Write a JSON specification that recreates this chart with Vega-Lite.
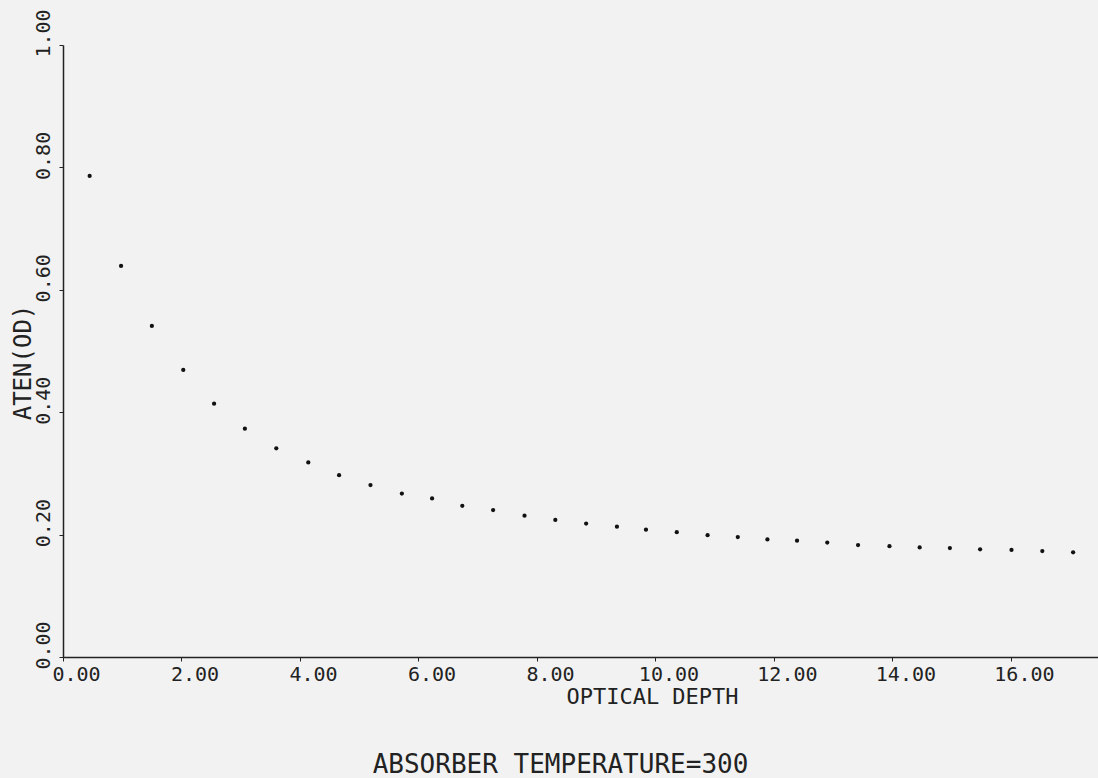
{
  "$schema": "https://vega.github.io/schema/vega-lite/v6.json",
  "width": 1035,
  "height": 612,
  "autosize": "none",
  "padding": {"left": 63, "top": 45, "right": 0, "bottom": 121},
  "background": "#f2f2f2",
  "title": {
    "text": "ABSORBER TEMPERATURE=300",
    "orient": "bottom",
    "anchor": "middle",
    "dx": -20,
    "offset": 45,
    "font": "DejaVu Sans Mono",
    "fontSize": 26,
    "fontWeight": "normal",
    "color": "#222222"
  },
  "config": {
    "view": {"stroke": null},
    "font": "DejaVu Sans Mono"
  },
  "data": {
    "values": [
      {"tau": 0.45, "aten": 0.786},
      {"tau": 0.98, "aten": 0.639},
      {"tau": 1.50, "aten": 0.541},
      {"tau": 2.03, "aten": 0.469},
      {"tau": 2.55, "aten": 0.414},
      {"tau": 3.07, "aten": 0.373},
      {"tau": 3.60, "aten": 0.341},
      {"tau": 4.14, "aten": 0.318},
      {"tau": 4.66, "aten": 0.297},
      {"tau": 5.19, "aten": 0.281},
      {"tau": 5.72, "aten": 0.267},
      {"tau": 6.23, "aten": 0.259},
      {"tau": 6.74, "aten": 0.247},
      {"tau": 7.26, "aten": 0.240},
      {"tau": 7.79, "aten": 0.231},
      {"tau": 8.31, "aten": 0.224},
      {"tau": 8.83, "aten": 0.218},
      {"tau": 9.35, "aten": 0.213},
      {"tau": 9.84, "aten": 0.208},
      {"tau": 10.36, "aten": 0.204},
      {"tau": 10.88, "aten": 0.199},
      {"tau": 11.39, "aten": 0.196},
      {"tau": 11.89, "aten": 0.192},
      {"tau": 12.39, "aten": 0.190},
      {"tau": 12.90, "aten": 0.187},
      {"tau": 13.42, "aten": 0.183},
      {"tau": 13.95, "aten": 0.181},
      {"tau": 14.46, "aten": 0.179},
      {"tau": 14.97, "aten": 0.178},
      {"tau": 15.48, "aten": 0.176},
      {"tau": 16.01, "aten": 0.175},
      {"tau": 16.53, "aten": 0.173},
      {"tau": 17.05, "aten": 0.171}
    ]
  },
  "mark": {"type": "circle", "size": 18, "color": "#111111", "opacity": 1},
  "encoding": {
    "x": {
      "field": "tau",
      "type": "quantitative",
      "scale": {"domain": [0, 17.47], "nice": false, "zero": false},
      "axis": {
        "title": "OPTICAL DEPTH",
        "values": [0, 2, 4, 6, 8, 10, 12, 14, 16],
        "format": ".2f",
        "grid": false,
        "domainColor": "#222222",
        "domainWidth": 1.5,
        "tickColor": "#222222",
        "tickSize": 4,
        "labelFont": "DejaVu Sans Mono",
        "labelFontSize": 20,
        "labelColor": "#222222",
        "labelOffset": 13,
        "labelPadding": 3,
        "labelFlush": false,
        "titleFont": "DejaVu Sans Mono",
        "titleFontSize": 22,
        "titleFontWeight": "normal",
        "titleColor": "#222222",
        "titleX": 589,
        "titleY": 46,
        "titleAlign": "center",
        "titleBaseline": "alphabetic"
      }
    },
    "y": {
      "field": "aten",
      "type": "quantitative",
      "scale": {"domain": [0, 1], "nice": false},
      "axis": {
        "title": "ATEN(OD)",
        "values": [0, 0.2, 0.4, 0.6, 0.8, 1.0],
        "format": ".2f",
        "grid": false,
        "domainColor": "#222222",
        "domainWidth": 1.5,
        "tickColor": "#222222",
        "tickSize": 4,
        "labelFont": "DejaVu Sans Mono",
        "labelFontSize": 20,
        "labelColor": "#222222",
        "labelAngle": -90,
        "labelAlign": "center",
        "labelBaseline": "alphabetic",
        "labelOffset": -12,
        "labelPadding": 10,
        "labelFlush": false,
        "titleFont": "DejaVu Sans Mono",
        "titleFontSize": 24,
        "titleFontWeight": "normal",
        "titleColor": "#222222",
        "titleAngle": -90,
        "titleX": -33,
        "titleY": 317,
        "titleAlign": "center",
        "titleBaseline": "alphabetic"
      }
    }
  }
}
